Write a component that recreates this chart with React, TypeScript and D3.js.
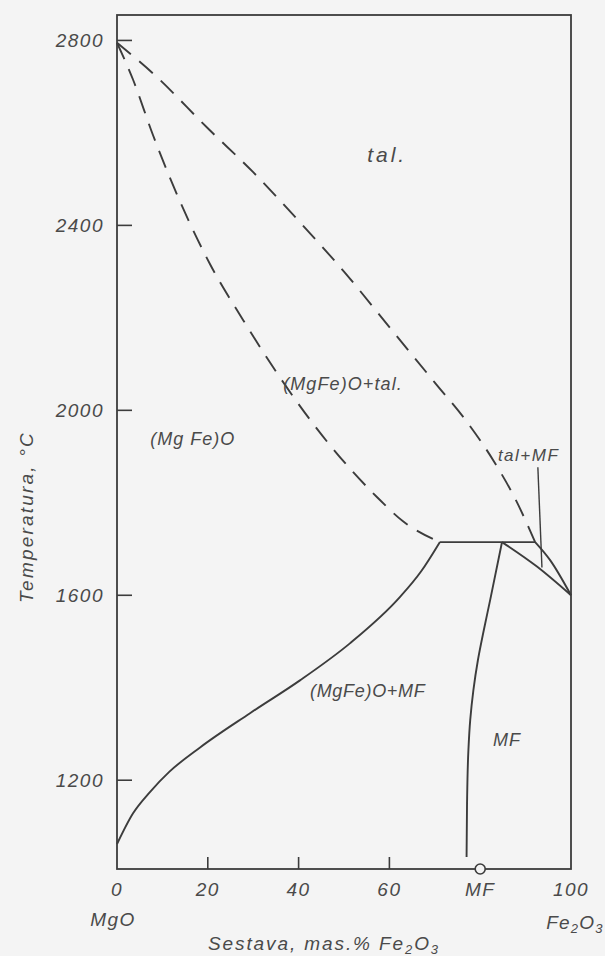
import React from "react";
import * as d3 from "d3";

// ---- data (composition in mass % Fe2O3, temperature in °C) ----
const liquidusX = [0, 8, 20, 30, 40, 50, 60, 70, 77, 83, 88, 92.1];
const liquidusT = [2795, 2728, 2610, 2515, 2410, 2300, 2180, 2060, 1976, 1890, 1803, 1715];

const solidusX = [0, 3.5, 7.9, 15.6, 20.5, 27.8, 34.4, 46.3, 57.3, 63, 71.1];
const solidusT = [2795, 2716, 2596, 2414, 2316, 2195, 2093, 1932, 1812, 1760, 1715];

const solvusX = [0, 3.5, 7.3, 11.5, 18.3, 29.3, 40.3, 51.3, 62.3, 67, 71.1];
const solvusT = [1062, 1128, 1175, 1218, 1271, 1345, 1416, 1496, 1596, 1652, 1715];

const mfX = [77.0, 77.1, 77.4, 77.8, 78.5, 79.5, 80.8, 82.2, 84.8];
const mfT = [1034, 1150, 1265, 1330, 1395, 1460, 1525, 1590, 1715];

const eutecticX = [71.1, 92.1];
const eutecticT = [1715, 1715];

const mfLiquidusX = [84.8, 92.5, 100];
const mfLiquidusT = [1715, 1662, 1600];

const talMfX = [92.1, 95.4, 100];
const talMfT = [1715, 1676, 1600];

const pointerX = [92.7, 93.6];
const pointerT = [1877, 1660];

const yTicks = [1200, 1600, 2000, 2400, 2800];
const xTickMarks = [20, 40, 60];
const xTickValues = [0, 20, 40, 60, 80, 100];
const xTickLabels = ["0", "20", "40", "60", "MF", "100"];
const mfComposition = 80;

const regionLabels = ["tal.", "(MgFe)O+tal.", "(Mg Fe)O", "tal+MF", "(MgFe)O+MF", "MF"];
const regionX = [55.1, 36.6, 7.3, 83.9, 42.5, 82.8];
const regionT = [2538, 2043, 1924, 1890, 1379, 1273];
const regionSize = [21, 18, 18, 17, 18, 18];
const regionSpacing = [3, 1.1, 1, 1.5, 0.7, 1];

const T_MIN = 1008;
const T_MAX = 2855;

const W = 605;
const H = 956;
const INK = "#3c3c3c";
const TEXT = "#4a4a4a";
const BG = "#f4f4f4";
const FONT = "'Liberation Sans', Arial, sans-serif";

export default function App() {
  const x = d3.scaleLinear().domain([0, 100]).range([117, 571]);
  const y = d3.scaleLinear().domain([T_MIN, T_MAX]).range([869, 15]);

  const lineX = d3
    .line<[number, number]>()
    .x((d) => x(d[0]))
    .y((d) => y(d[1]))
    .curve(d3.curveMonotoneX);
  const lineY = d3
    .line<[number, number]>()
    .x((d) => x(d[0]))
    .y((d) => y(d[1]))
    .curve(d3.curveMonotoneY);
  const straight = d3
    .line<[number, number]>()
    .x((d) => x(d[0]))
    .y((d) => y(d[1]));

  const pts = (xs: number[], ts: number[]) => xs.map((v, i) => [v, ts[i]] as [number, number]);

  const dash = "18,11";

  return (
    <svg
      width={W}
      height={H}
      style={{ position: "absolute", left: 0, top: 0, background: BG }}
      fontFamily={FONT}
    >
      <rect x={0} y={0} width={W} height={H} fill={BG} />

      {/* frame */}
      <rect
        x={x(0)}
        y={y(T_MAX)}
        width={x(100) - x(0)}
        height={y(T_MIN) - y(T_MAX)}
        fill="none"
        stroke={INK}
        strokeWidth={1.8}
      />

      {/* y ticks (inward) */}
      {yTicks.map((t) => (
        <g key={"yt" + t}>
          <line x1={x(0)} x2={x(0) + 15} y1={y(t)} y2={y(t)} stroke={INK} strokeWidth={1.6} />
          <text
            x={x(0) - 13}
            y={y(t)}
            dy="0.36em"
            textAnchor="end"
            fontSize={19}
            fontStyle="italic"
            letterSpacing={1.5}
            fill={TEXT}
          >
            {t}
          </text>
        </g>
      ))}

      {/* x ticks (inward) */}
      {xTickMarks.map((v) => (
        <line
          key={"xt" + v}
          x1={x(v)}
          x2={x(v)}
          y1={y(T_MIN)}
          y2={y(T_MIN) - 12}
          stroke={INK}
          strokeWidth={1.6}
        />
      ))}
      {xTickValues.map((v, i) => (
        <text
          key={"xl" + v}
          x={x(v)}
          y={y(T_MIN) + 27}
          textAnchor="middle"
          fontSize={19}
          fontStyle="italic"
          letterSpacing={1.5}
          fill={TEXT}
        >
          {xTickLabels[i]}
        </text>
      ))}
      <text
        x={x(0) - 4}
        y={y(T_MIN) + 57}
        textAnchor="middle"
        fontSize={19}
        fontStyle="italic"
        letterSpacing={1.5}
        fill={TEXT}
      >
        MgO
      </text>
      <text
        x={x(100) + 4}
        y={y(T_MIN) + 60}
        textAnchor="middle"
        fontSize={19}
        fontStyle="italic"
        letterSpacing={1.2}
        fill={TEXT}
      >
        Fe
        <tspan fontSize={13} dy={4}>2</tspan>
        <tspan dy={-4}>O</tspan>
        <tspan fontSize={13} dy={4}>3</tspan>
      </text>

      {/* axis titles */}
      <text
        x={208}
        y={950}
        fontSize={19}
        fontStyle="italic"
        letterSpacing={1.9}
        fill={TEXT}
      >
        Sestava, mas.% Fe
        <tspan fontSize={13} dy={4}>2</tspan>
        <tspan dy={-4}>O</tspan>
        <tspan fontSize={13} dy={4}>3</tspan>
      </text>
      <text
        transform={`translate(33, ${517}) rotate(-90)`}
        textAnchor="middle"
        fontSize={19}
        fontStyle="italic"
        letterSpacing={2.2}
        fill={TEXT}
      >
        Temperatura, °C
      </text>

      {/* dashed liquidus / solidus of (MgFe)O */}
      <path
        d={lineX(pts(liquidusX, liquidusT)) || ""}
        fill="none"
        stroke={INK}
        strokeWidth={1.9}
        strokeDasharray={dash}
      />
      <path
        d={lineX(pts(solidusX, solidusT)) || ""}
        fill="none"
        stroke={INK}
        strokeWidth={1.9}
        strokeDasharray={dash}
      />

      {/* solid boundaries */}
      <path d={lineX(pts(solvusX, solvusT)) || ""} fill="none" stroke={INK} strokeWidth={1.9} />
      <path d={lineY(pts(mfX, mfT)) || ""} fill="none" stroke={INK} strokeWidth={1.9} />
      <path d={straight(pts(eutecticX, eutecticT)) || ""} fill="none" stroke={INK} strokeWidth={1.9} />
      <path d={lineX(pts(mfLiquidusX, mfLiquidusT)) || ""} fill="none" stroke={INK} strokeWidth={1.9} />
      <path d={lineX(pts(talMfX, talMfT)) || ""} fill="none" stroke={INK} strokeWidth={1.9} />
      <path d={straight(pts(pointerX, pointerT)) || ""} fill="none" stroke={INK} strokeWidth={1.4} />

      {/* MF composition marker */}
      <circle cx={x(mfComposition)} cy={y(T_MIN)} r={5} fill={BG} stroke={INK} strokeWidth={1.6} />

      {/* region labels */}
      {regionLabels.map((s, i) => (
        <text
          key={"r" + i}
          x={x(regionX[i])}
          y={y(regionT[i])}
          fontSize={regionSize[i]}
          fontStyle="italic"
          letterSpacing={regionSpacing[i]}
          fill={TEXT}
        >
          {s}
        </text>
      ))}
    </svg>
  );
}
